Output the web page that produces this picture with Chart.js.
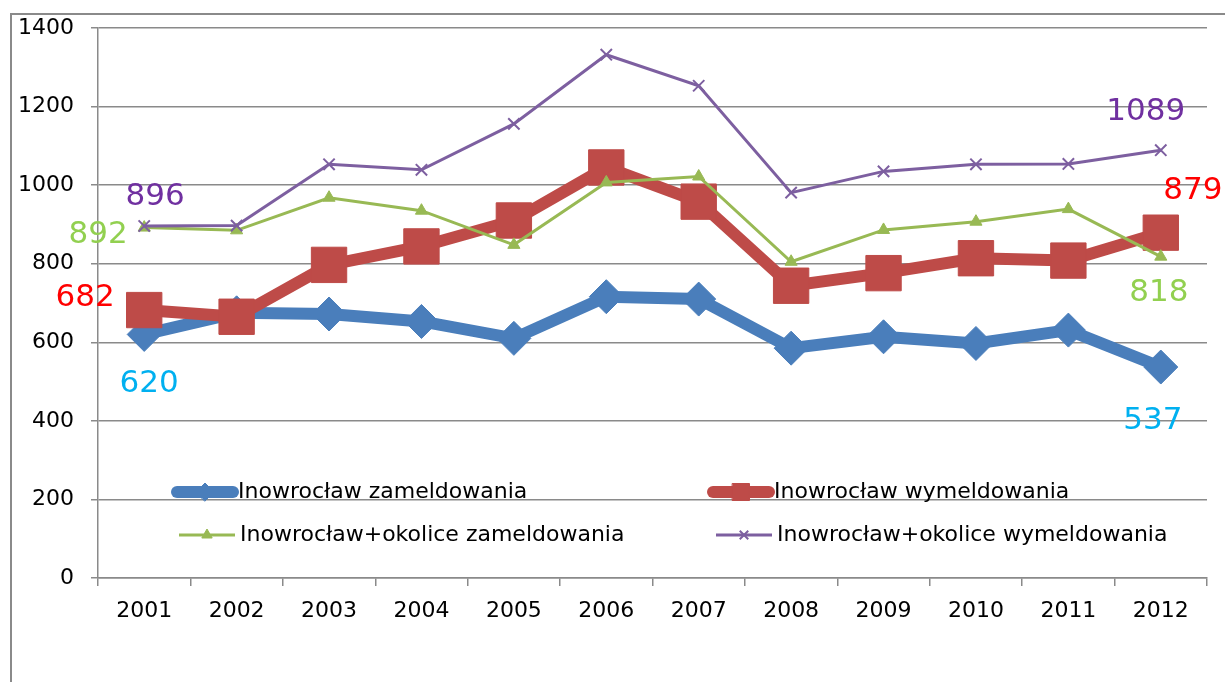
<!DOCTYPE html>
<html>
<head>
<meta charset="utf-8">
<script src="https://cdn.jsdelivr.net/npm/chart.js@4/dist/chart.umd.min.js"></script>
<style>
    body { margin: 0; background: #fff; }
    #wrap { width: 1225px; height: 682px; position: relative; }
</style>
</head>
<body>
<div id="wrap"><canvas id="canvas0"></canvas></div>
<script>
const years = ['2001', '2002', '2003', '2004', '2005', '2006', '2007', '2008', '2009', '2010', '2011', '2012'];
const inoZameld = [620, 675, 672, 653, 610, 716, 710, 585, 614, 597, 631, 537];
const inoWymeld = [682, 665, 797, 844, 910, 1045, 958, 744, 776, 814, 808, 879];
const okoliceZameld = [892, 885, 968, 935, 848, 1007, 1022, 805, 886, 907, 939, 818];
const okoliceWymeld = [896, 897, 1053, 1039, 1156, 1332, 1253, 981, 1035, 1053, 1054, 1089];
const yTicks = [0, 200, 400, 600, 800, 1000, 1200, 1400];

const FONT = '"DejaVu Sans", sans-serif';

// value labels at first and last point: [datasetIndex, pointIndex, dx, dy, colour]
const valueLabels = [
    [0, 0, 5, 50, '#00B0F0'],
    [1, 0, -59, -12, '#FF0000'],
    [2, 0, -46, 7, '#92D050'],
    [3, 0, 11, -29, '#7030A0'],
    [0, 11, -8, 54, '#00B0F0'],
    [1, 11, 32, -42, '#FF0000'],
    [2, 11, -2, 36, '#92D050'],
    [3, 11, -15, -38, '#7030A0']
];

const framePlugin = {
    id: 'frame',
    beforeDraw: (chart) => {
        const ctx = chart.ctx;
        ctx.save();
        ctx.strokeStyle = '#8a8a8a';
        ctx.lineWidth = 2;
        ctx.strokeRect(11, 14, 1400, 1000);
        ctx.restore();
    }
};

const labelPlugin = {
    id: 'valueLabels',
    afterDatasetsDraw: (chart) => {
        const ctx = chart.ctx;
        ctx.save();
        ctx.font = '31px ' + FONT;
        ctx.textAlign = 'center';
        ctx.textBaseline = 'middle';
        valueLabels.forEach(([di, pi, dx, dy, color]) => {
            const pt = chart.getDatasetMeta(di).data[pi];
            const value = chart.data.datasets[di].data[pi];
            ctx.fillStyle = color;
            ctx.fillText(String(value), pt.x + dx, pt.y + dy);
        });
        ctx.restore();
    }
};

// legend drawn inside the plot, two columns
const legendPlugin = {
    id: 'insideLegend',
    afterDraw: (chart) => {
        const ctx = chart.ctx;
        const spots = [
            { x: 177, y: 492, r: 9 },
            { x: 713, y: 492, r: 12 },
            { x: 179, y: 535, r: 6 },
            { x: 716, y: 535, r: 6 }
        ];
        ctx.save();
        chart.data.datasets.forEach((ds, i) => {
            const s = spots[i];
            ctx.strokeStyle = ds.borderColor;
            ctx.lineWidth = ds.borderWidth;
            ctx.lineCap = ds.borderWidth > 5 ? 'round' : 'butt';
            ctx.beginPath();
            ctx.moveTo(s.x, s.y);
            ctx.lineTo(s.x + 56, s.y);
            ctx.stroke();
            ctx.fillStyle = ds.pointBackgroundColor;
            ctx.strokeStyle = ds.pointBorderColor;
            ctx.lineWidth = ds.pointBorderWidth;
            Chart.helpers.drawPoint(ctx, {
                pointStyle: ds.pointStyle, radius: s.r, rotation: 0, borderWidth: ds.pointBorderWidth
            }, s.x + 28, s.y);
            ctx.fillStyle = '#000';
            ctx.font = '22px ' + FONT;
            ctx.textAlign = 'left';
            ctx.textBaseline = 'middle';
            ctx.fillText(ds.label, s.x + 61, s.y);
        });
        ctx.restore();
    }
};

new Chart(document.getElementById('canvas0'), {
    type: 'line',
    data: {
        labels: years,
        datasets: [{
            label: 'Inowrocław zameldowania',
            data: inoZameld,
            borderColor: '#4A7EBB',
            borderWidth: 12,
            pointStyle: 'rectRot',
            pointRadius: 17,
            pointBackgroundColor: '#4A7EBB',
            pointBorderColor: '#4A7EBB',
            pointBorderWidth: 1,
            order: 3
        }, {
            label: 'Inowrocław wymeldowania',
            data: inoWymeld,
            borderColor: '#BE4B48',
            borderWidth: 12,
            pointStyle: 'rect',
            pointRadius: 25,
            pointBackgroundColor: '#BE4B48',
            pointBorderColor: '#BE4B48',
            pointBorderWidth: 1,
            order: 2
        }, {
            label: 'Inowrocław+okolice zameldowania',
            data: okoliceZameld,
            borderColor: '#98B954',
            borderWidth: 3,
            pointStyle: 'triangle',
            pointRadius: 7,
            pointBackgroundColor: '#98B954',
            pointBorderColor: '#98B954',
            pointBorderWidth: 1,
            order: 1
        }, {
            label: 'Inowrocław+okolice wymeldowania',
            data: okoliceWymeld,
            borderColor: '#7D5FA0',
            borderWidth: 3,
            pointStyle: 'crossRot',
            pointRadius: 8,
            pointBackgroundColor: '#7D5FA0',
            pointBorderColor: '#7D5FA0',
            pointBorderWidth: 2,
            order: 0
        }]
    },
    options: {
        responsive: true,
        maintainAspectRatio: false,
        animation: false,
        layout: {
            autoPadding: false,
            padding: { left: 10, top: 28, right: 18, bottom: 0 }
        },
        plugins: {
            legend: { display: false },
            tooltip: { enabled: false }
        },
        elements: { line: { tension: 0 } },
        scales: {
            x: {
                offset: true,
                afterFit: (s) => {
                    s.height = 104;
                    s.paddingLeft = 0;
                    s.paddingRight = 0;
                },
                grid: {
                    offset: true,
                    drawOnChartArea: false,
                    color: '#8a8a8a',
                    tickLength: 8,
                    lineWidth: 1.5
                },
                border: { color: '#8a8a8a', width: 1.5 },
                ticks: {
                    color: '#000',
                    padding: 12,
                    maxRotation: 0,
                    font: { family: FONT, size: 22 }
                }
            },
            y: {
                min: 0,
                max: 1400,
                afterFit: (s) => {
                    s.width = 88;
                    s.paddingTop = 0;
                    s.paddingBottom = 0;
                },
                afterBuildTicks: (s) => { s.ticks = yTicks.map(v => ({ value: v })); },
                grid: {
                    color: '#8a8a8a',
                    lineWidth: 1.5,
                    tickLength: 7
                },
                border: { color: '#8a8a8a', width: 1.5 },
                ticks: {
                    color: '#000',
                    padding: 17,
                    font: { family: FONT, size: 22 },
                    callback: (v) => String(v)
                }
            }
        }
    },
    plugins: [framePlugin, labelPlugin, legendPlugin]
});
</script>
</body>
</html>
